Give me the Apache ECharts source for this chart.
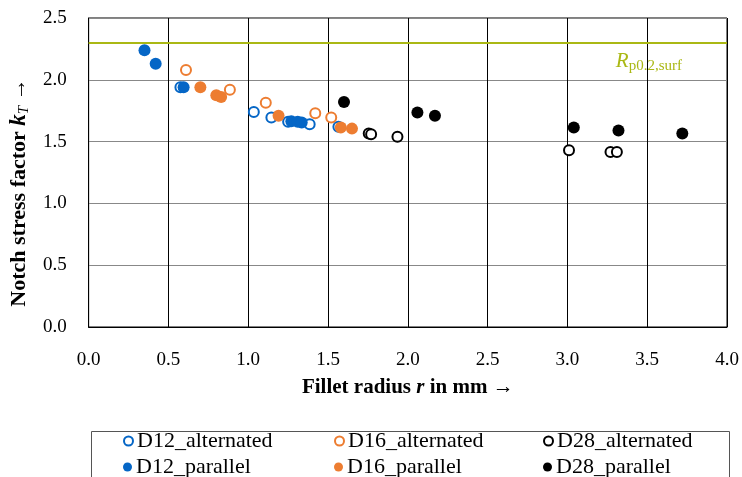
<!DOCTYPE html>
<html>
<head>
<meta charset="utf-8">
<script src="https://cdn.jsdelivr.net/npm/echarts@6/dist/echarts.min.js"></script>
<style>
  html, body { margin: 0; padding: 0; background: #fff; }
  #main { width: 742px; height: 477px; }
</style>
</head>
<body>
<div id="main"></div>
<script>
// data: [fillet radius r in mm, notch stress factor kT]
let d12Alternated = [[0.575, 1.94], [1.035, 1.74], [1.145, 1.695], [1.25, 1.66], [1.385, 1.64], [1.565, 1.62]];
let d16Alternated = [[0.61, 2.08], [0.885, 1.92], [1.11, 1.815], [1.42, 1.73], [1.52, 1.695]];
let d28Alternated = [[1.755, 1.565], [1.77, 1.56], [1.935, 1.54], [3.01, 1.43], [3.27, 1.415], [3.31, 1.415]];
let d12Parallel = [[0.35, 2.24], [0.42, 2.13], [0.595, 1.94], [1.27, 1.665], [1.31, 1.66], [1.335, 1.655]];
let d16Parallel = [[0.70, 1.94], [0.80, 1.875], [0.83, 1.86], [1.19, 1.71], [1.58, 1.615], [1.65, 1.605]];
let d28Parallel = [[1.60, 1.82], [2.06, 1.735], [2.17, 1.71], [3.04, 1.615], [3.32, 1.59], [3.72, 1.565]];
let rpSurf = 2.3;

let blue = '#0566C6';
let orange = '#ED7D31';
let black = '#000000';
let green = '#AAB814';
let serif = 'Liberation Serif';

function openSeries(name, data, color){
    return {
        name: name,
        type: 'scatter',
        data: data,
        symbol: 'circle',
        symbolSize: 10,
        itemStyle: {color: '#fff', borderColor: color, borderWidth: 2, opacity: 1}
    };
}

function filledSeries(name, data, color){
    return {
        name: name,
        type: 'scatter',
        data: data,
        symbol: 'circle',
        symbolSize: 12,
        itemStyle: {color: color, opacity: 1}
    };
}

// one legend per entry so the 3 x 2 layout lines up like in the original
function legendItem(name, left, top){
    return {
        data: [name],
        left: left,
        top: top,
        itemWidth: 9,
        itemHeight: 9,
        itemGap: 0,
        padding: 0,
        textStyle: {fontFamily: serif, fontSize: 22, color: '#000', padding: [0, 0, 0, -1]}
    };
}

let myChart = echarts.init(document.getElementById('main'));

let series = [
    openSeries('D12_alternated', d12Alternated, blue),
    openSeries('D16_alternated', d16Alternated, orange),
    openSeries('D28_alternated', d28Alternated, black),
    filledSeries('D12_parallel', d12Parallel, blue),
    filledSeries('D16_parallel', d16Parallel, orange),
    filledSeries('D28_parallel', d28Parallel, black)
];

series[0].markLine = {
    silent: true,
    symbol: 'none',
    lineStyle: {color: green, width: 2, type: 'solid'},
    label: {
        show: true,
        position: 'insideEndBottom',
        distance: [45, 6],
        formatter: '{r|R}{s|p0.2,surf}',
        rich: {
            r: {fontFamily: serif, fontStyle: 'italic', fontSize: 21, color: green},
            s: {fontFamily: serif, fontSize: 15, color: green, padding: [10, 0, 0, 0]}
        }
    },
    data: [{yAxis: rpSurf}]
};

let option = {
    animation: false,
    grid: {
        left: 88,
        right: 15,
        top: 18,
        bottom: 150,
        show: true,
        borderColor: '#000',
        borderWidth: 1
    },
    xAxis: {
        type: 'value',
        min: 0,
        max: 4,
        interval: 0.5,
        name: '{b|Fillet radius }{i|r}{b| in mm →}',
        nameLocation: 'middle',
        nameGap: 50,
        nameTextStyle: {
            rich: {
                b: {fontFamily: serif, fontWeight: 'bold', fontSize: 21, color: '#000'},
                i: {fontFamily: serif, fontWeight: 'bold', fontStyle: 'italic', fontSize: 21, color: '#000'}
            }
        },
        axisLine: {lineStyle: {color: '#000'}},
        axisTick: {show: false},
        axisLabel: {
            margin: 24,
            fontFamily: serif,
            fontSize: 19,
            color: '#000',
            formatter: function(v){ return v.toFixed(1); }
        },
        splitLine: {show: true, lineStyle: {color: '#000', width: 1}}
    },
    yAxis: {
        type: 'value',
        min: 0,
        max: 2.5,
        interval: 0.5,
        name: '{b|Notch stress factor }{i|k}{s|T}{b| →}',
        nameLocation: 'middle',
        nameGap: 53,
        nameTextStyle: {
            padding: [0, 40, 0, 0],
            rich: {
                b: {fontFamily: serif, fontWeight: 'bold', fontSize: 22, color: '#000'},
                i: {fontFamily: serif, fontWeight: 'bold', fontStyle: 'italic', fontSize: 23, color: '#000'},
                s: {fontFamily: serif, fontStyle: 'italic', fontSize: 15, color: '#000', padding: [10, 0, 0, 0]}
            }
        },
        axisLine: {show: true, lineStyle: {color: '#000'}},
        axisTick: {show: false},
        axisLabel: {
            margin: 22,
            fontFamily: serif,
            fontSize: 19,
            color: '#000',
            formatter: function(v){ return v.toFixed(1); }
        },
        splitLine: {show: true, lineStyle: {color: '#888', width: 1}}
    },
    legend: [
        legendItem('D12_alternated', 123, 430),
        legendItem('D16_alternated', 334, 430),
        legendItem('D28_alternated', 543, 430),
        legendItem('D12_parallel', 123, 456),
        legendItem('D16_parallel', 334, 456),
        legendItem('D28_parallel', 543, 456)
    ],
    graphic: [{
        type: 'rect',
        left: 89,
        top: 429,
        shape: {width: 638, height: 60},
        style: {fill: 'none', stroke: '#555', lineWidth: 1},
        silent: true
    }],
    series: series
};

myChart.setOption(option);
</script>
</body>
</html>
